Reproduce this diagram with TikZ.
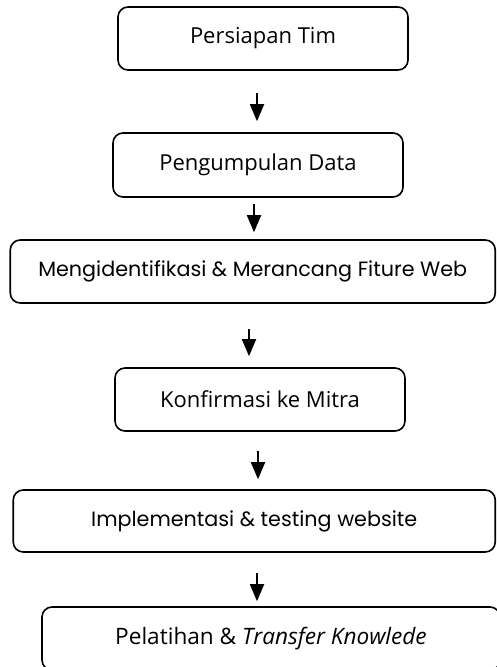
\documentclass[tikz,border=0pt]{standalone}
\usepackage{fontspec}
\setmainfont{Open Sans}
\newfontfamily\roundfont{Poppins}
\usepackage{tikz}
\usetikzlibrary{arrows.meta}

\begin{document}
\begin{tikzpicture}[x=1pt,y=-1pt,
  stepbox/.style={draw=black,line width=1.6pt,rounded corners=10pt,fill=white,
    inner sep=0pt,font=\fontsize{22}{26}\selectfont},
  widebox/.style={stepbox,font=\roundfont\fontsize{20.7}{24}\selectfont},
  arr/.style={line width=1.8pt,-{Triangle[length=17pt,width=14pt]}}]
\useasboundingbox (0,0) rectangle (497,667);

\node[stepbox,minimum width=290pt,minimum height=63pt] (b1) at (263,38.5) {Persiapan Tim};
\node[stepbox,minimum width=290pt,minimum height=64pt] (b2) at (258,165) {Pengumpulan Data};
\node[widebox,minimum width=485pt,minimum height=63pt] (b3) at (252.75,271.5) {Mengidentifikasi \& Merancang Fiture Web};
\node[stepbox,minimum width=290pt,minimum height=63pt] (b4) at (260,399.5) {Konfirmasi ke Mitra};
\node[widebox,minimum width=482pt,minimum height=62pt] (b5) at (254.25,521) {Implementasi \& testing website};
\node[stepbox,minimum width=458pt,minimum height=63pt,font=\fontsize{22.6}{26}\selectfont] (b6) at (271,638.5) {Pelatihan \& \textit{Transfer Knowlede}};

\draw[arr] ([xshift=-6pt,yshift=-22pt]b1.south) -- ([xshift=-1pt,yshift=11pt]b2.north);
\draw[arr] ([xshift=-4pt,yshift=-6pt]b2.south) -- ([xshift=1.25pt,yshift=7pt]b3.north);
\draw[arr] ([xshift=-3.75pt,yshift=-25pt]b3.south) -- ([xshift=-11pt,yshift=11pt]b4.north);
\draw[arr] ([xshift=-2pt,yshift=-19pt]b4.south) -- ([xshift=3.75pt,yshift=10pt]b5.north);
\draw[arr] ([xshift=2.75pt,yshift=-20pt]b5.south) -- ([xshift=-14pt,yshift=5pt]b6.north);
\end{tikzpicture}
\end{document}
